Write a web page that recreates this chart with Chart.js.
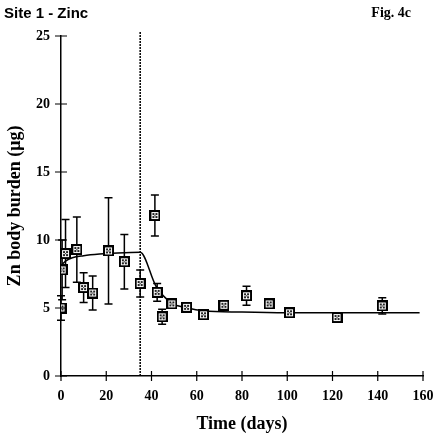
<!DOCTYPE html>
<html>
<head>
<meta charset="utf-8">
<script src="https://cdn.jsdelivr.net/npm/chart.js@4/dist/chart.umd.min.js"></script>
<style>
	body { margin: 0; background: #fff; overflow: hidden; }
	#wrap { width: 435px; height: 439px; }
</style>
</head>
<body>
<div id="wrap"><canvas id="c"></canvas></div>
<script>
// measured points
const days = [0, 0.5, 2, 7, 10, 14, 21, 28, 35, 41.5, 42.5, 44.7, 49, 55.5, 63, 72, 82, 92, 101, 122, 142];
const zn = [5.0, 7.8, 9.0, 9.3, 6.5, 6.1, 9.2, 8.4, 6.8, 11.8, 6.15, 4.35, 5.3, 5.05, 4.5, 5.2, 5.9, 5.3, 4.65, 4.3, 5.15];
const errs = [0.9, 2.2, 2.5, 2.4, 1.1, 1.25, 3.9, 2.0, 1.0, 1.5, 0.65, 0.55, 0, 0, 0.3, 0, 0.7, 0, 0, 0, 0.6];

// fitted model curve
const fitDays = [0.5, 2, 5, 10, 17, 25, 35, 42, 49, 56, 63, 80, 100, 120, 158.5];
const fitZn = [8.2, 8.45, 8.7, 8.85, 8.97, 9.05, 9.1, 6.6, 5.35, 5.0, 4.8, 4.7, 4.65, 4.65, 4.65];

const xTicks = [0, 20, 40, 60, 80, 100, 120, 140, 160];
const yTicks = [0, 5, 10, 15, 20, 25];
const switchDay = 35;

const serif = '"Liberation Serif", "Times New Roman", serif';

// boxed cross marker
function makeMarker() {
	const m = document.createElement('canvas');
	m.width = 11; m.height = 11;
	const g = m.getContext('2d');
	g.fillStyle = '#000';
	g.fillRect(0, 0, 11, 11);
	g.fillStyle = '#fff';
	g.fillRect(2, 2, 7, 7);
	g.fillStyle = '#222';
	g.fillRect(3, 3, 2, 2);
	g.fillRect(6, 3, 2, 2);
	g.fillRect(3, 6, 2, 2);
	g.fillRect(6, 6, 2, 2);
	g.fillRect(5, 5, 1, 1);
	return m;
}
const marker = makeMarker();

const errorBars = {
	id: 'errorBars',
	beforeDatasetsDraw(chart) {
		const ctx = chart.ctx, xs = chart.scales.x, ys = chart.scales.y;
		ctx.save();
		ctx.strokeStyle = '#000';
		ctx.lineWidth = 1.5;
		days.forEach((d, i) => {
			if (!errs[i]) return;
			const x = xs.getPixelForValue(d);
			const y1 = ys.getPixelForValue(zn[i] + errs[i]);
			const y2 = ys.getPixelForValue(zn[i] - errs[i]);
			ctx.beginPath();
			ctx.moveTo(x, y1); ctx.lineTo(x, y2);
			ctx.moveTo(x - 4, y1); ctx.lineTo(x + 4, y1);
			ctx.moveTo(x - 4, y2); ctx.lineTo(x + 4, y2);
			ctx.stroke();
		});
		// dashed change-over line
		const sx = xs.getPixelForValue(switchDay);
		ctx.lineWidth = 1.5;
		ctx.setLineDash([2, 1]);
		ctx.beginPath();
		ctx.moveTo(sx, chart.chartArea.top - 4);
		ctx.lineTo(sx, chart.chartArea.bottom);
		ctx.stroke();
		ctx.restore();
	}
};

const extras = {
	id: 'extras',
	afterDraw(chart) {
		const ctx = chart.ctx, xs = chart.scales.x, ys = chart.scales.y;
		const a = chart.chartArea;
		ctx.save();
		ctx.strokeStyle = '#000';
		ctx.lineWidth = 1.2;
		ctx.beginPath();
		xTicks.forEach(t => {
			const x = xs.getPixelForValue(t);
			ctx.moveTo(x, a.bottom - 5); ctx.lineTo(x, a.bottom + 5);
		});
		yTicks.forEach(t => {
			const y = ys.getPixelForValue(t);
			ctx.moveTo(a.left - 6, y); ctx.lineTo(a.left + 6, y);
		});
		ctx.stroke();
		ctx.fillStyle = '#000';
		ctx.textBaseline = 'alphabetic';
		ctx.font = 'bold 15px "Liberation Sans", Arial, sans-serif';
		ctx.textAlign = 'left';
		ctx.fillText('Site 1 - Zinc', 4, 18);
		ctx.font = 'bold 14px ' + serif;
		ctx.textAlign = 'right';
		ctx.fillText('Fig. 4c', 411, 17);
		ctx.restore();
	}
};

new Chart(document.getElementById('c'), {
	type: 'scatter',
	data: {
		datasets: [{
				label: 'Zn',
				data: days.map((d, i) => ({ x: d, y: zn[i] })),
				pointStyle: marker,
				pointRadius: 5.5,
				order: 0
			},
			{
				label: 'fit',
				data: fitDays.map((d, i) => ({ x: d, y: fitZn[i] })),
				showLine: true,
				borderColor: '#000',
				borderWidth: 1.5,
				pointRadius: 0,
				cubicInterpolationMode: 'monotone',
				order: 1
			}
		]
	},
	options: {
		responsive: true,
		maintainAspectRatio: false,
		animation: false,
		layout: {
			padding: { top: 36, right: 12, left: 0, bottom: 0 }
		},
		plugins: {
			legend: { display: false },
			tooltip: { enabled: false }
		},
		scales: {
			x: {
				type: 'linear',
				min: 0,
				max: 160,
				afterBuildTicks: s => { s.ticks = xTicks.map(v => ({ value: v })); },
				afterFit: s => { s.height = 63; s.paddingLeft = 0; s.paddingRight = 0; },
				grid: { display: false, drawTicks: false },
				border: { display: true, color: '#000', width: 1.5 },
				ticks: {
					color: '#000',
					padding: 12,
					maxRotation: 0,
					font: { family: serif, size: 14, weight: 'bold' }
				},
				title: {
					display: true,
					text: 'Time (days)',
					color: '#000',
					font: { family: serif, size: 18, weight: 'bold' }
				}
			},
			y: {
				min: 0,
				max: 25,
				afterBuildTicks: s => { s.ticks = yTicks.map(v => ({ value: v })); },
				afterFit: s => { s.width = 61; s.paddingTop = 0; s.paddingBottom = 0; },
				grid: { display: false, drawTicks: false },
				border: { display: true, color: '#000', width: 1.5 },
				ticks: {
					color: '#000',
					padding: 11,
					font: { family: serif, size: 14, weight: 'bold' }
				},
				title: {
					display: true,
					text: 'Zn body burden (μg)',
					color: '#000',
					padding: { top: 5, bottom: 2 },
					font: { family: serif, size: 18, weight: 'bold' }
				}
			}
		}
	},
	plugins: [errorBars, extras]
});
</script>
</body>
</html>
